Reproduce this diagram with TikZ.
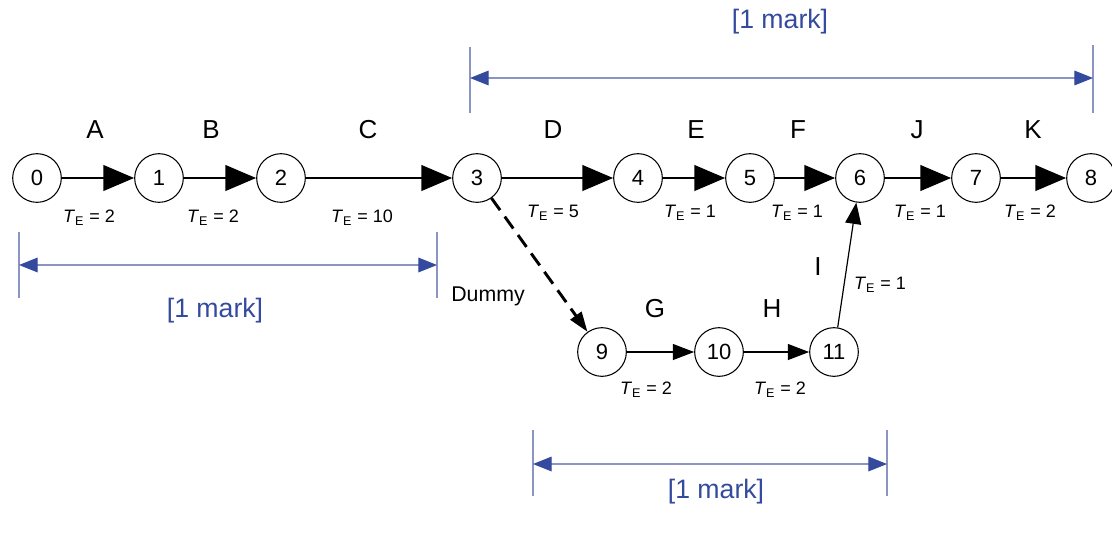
\documentclass[tikz,border=0pt]{standalone}
\usepackage{fontspec}
\setmainfont{Liberation Sans}
\usetikzlibrary{arrows.meta}
\definecolor{markblue}{RGB}{52,74,158}
\definecolor{dimline}{RGB}{140,148,196}
\begin{document}
\begin{tikzpicture}[x=0.75pt,y=-0.75pt,
  event/.style={circle,draw,line width=0.8pt,minimum size=36.5pt,inner sep=0pt,
    font=\fontsize{16.5}{16.5}\selectfont},
  mainact/.style={line width=2.2pt,-{Triangle[length=23pt,width=19pt]}},
  sideact/.style={line width=0.9pt,-{Triangle[length=16pt,width=12pt]}},
  dummyact/.style={line width=2.2pt,dash pattern=on 11pt off 6pt,-{Triangle[length=15pt,width=10pt]}},
  actlbl/.style={font=\fontsize{19.5}{19.5}\selectfont},
  durlbl/.style={font=\fontsize{13.5}{13.5}\selectfont},
  dimtick/.style={draw=dimline,line width=0.9pt},
  dimarrow/.style={draw=dimline,line width=0.9pt,
    {Triangle[length=14pt,width=11pt,color=markblue]}-{Triangle[length=14pt,width=11pt,color=markblue]}},
  marklbl/.style={text=markblue,font=\fontsize{20}{20}\selectfont}]
\useasboundingbox (0,0) rectangle (1112,536);

% events
\node[event] (n0) at (37,178) {0};
\node[event] (n1) at (159,178) {1};
\node[event] (n2) at (281,178) {2};
\node[event] (n3) at (477,178) {3};
\node[event] (n4) at (638,178) {4};
\node[event] (n5) at (750,178) {5};
\node[event] (n6) at (860,178) {6};
\node[event] (n7) at (976,178) {7};
\node[event] (n8) at (1091,178) {8};
\node[event] (n9) at (602,352) {9};
\node[event] (n10) at (719,352) {10};
\node[event] (n11) at (834,352) {11};

% activities
\draw[mainact] (n0) -- (n1);
\draw[mainact] (n1) -- (n2);
\draw[mainact] (n2) -- (n3);
\draw[mainact] (n3) -- (n4);
\draw[mainact] (n4) -- (n5);
\draw[mainact] (n5) -- (n6);
\draw[mainact] (n6) -- (n7);
\draw[mainact] (n7) -- (n8);
\draw[dummyact] (n3) -- (n9);
\draw[sideact] (n9) -- (n10);
\draw[sideact] (n10) -- (n11);
\draw[sideact] (n11) -- (n6);

% activity names
\node[actlbl] (la) at (95,130) {A};
\node[actlbl] (lb) at (211,130) {B};
\node[actlbl] (lc) at (368,130) {C};
\node[actlbl] (ld) at (553,130) {D};
\node[actlbl] (le) at (696,130) {E};
\node[actlbl] (lf) at (798,130) {F};
\node[actlbl] (lj) at (917,130) {J};
\node[actlbl] (lk) at (1033,130) {K};
\node[actlbl] (lg) at (655,309) {G};
\node[actlbl] (lh) at (772,309) {H};
\node[actlbl] (li) at (818,267) {I};
\node[font=\fontsize{16}{16}\selectfont] (ldummy) at (488,296) {Dummy};

% durations
\node[durlbl] (ta) at (89,218) {\textit{T}\textsubscript{E} = 2};
\node[durlbl] (tb) at (213,218) {\textit{T}\textsubscript{E} = 2};
\node[durlbl] (tc) at (362,218) {\textit{T}\textsubscript{E} = 10};
\node[durlbl] (td) at (553,213) {\textit{T}\textsubscript{E} = 5};
\node[durlbl] (te) at (690,213) {\textit{T}\textsubscript{E} = 1};
\node[durlbl] (tf) at (797,213) {\textit{T}\textsubscript{E} = 1};
\node[durlbl] (tj) at (920,213) {\textit{T}\textsubscript{E} = 1};
\node[durlbl] (tk) at (1030,213) {\textit{T}\textsubscript{E} = 2};
\node[durlbl] (ti) at (880,285) {\textit{T}\textsubscript{E} = 1};
\node[durlbl] (tg) at (646,390) {\textit{T}\textsubscript{E} = 2};
\node[durlbl] (th) at (780,390) {\textit{T}\textsubscript{E} = 2};

% mark brackets
\coordinate (ta1) at (470,47);  \coordinate (tb1) at (470,113);
\coordinate (ta2) at (1093,45); \coordinate (tb2) at (1093,113);
\coordinate (tl) at (470,78);   \coordinate (tr) at (1093,78);
\draw[dimtick] (ta1) -- (tb1);
\draw[dimtick] (ta2) -- (tb2);
\draw[dimarrow] (tl) -- (tr);
\node[marklbl] (m1) at (780,22) {[1 mark]};

\coordinate (la1) at (19,232);  \coordinate (lb1) at (19,298);
\coordinate (la2) at (437,232); \coordinate (lb2) at (437,298);
\coordinate (ll) at (19,265);   \coordinate (lr) at (437,265);
\draw[dimtick] (la1) -- (lb1);
\draw[dimtick] (la2) -- (lb2);
\draw[dimarrow] (ll) -- (lr);
\node[marklbl] (m2) at (215,311) {[1 mark]};

\coordinate (ba1) at (533,430); \coordinate (bb1) at (533,496);
\coordinate (ba2) at (887,430); \coordinate (bb2) at (887,496);
\coordinate (bl) at (533,464);  \coordinate (br) at (887,464);
\draw[dimtick] (ba1) -- (bb1);
\draw[dimtick] (ba2) -- (bb2);
\draw[dimarrow] (bl) -- (br);
\node[marklbl] (m3) at (716,492) {[1 mark]};
\end{tikzpicture}
\end{document}
